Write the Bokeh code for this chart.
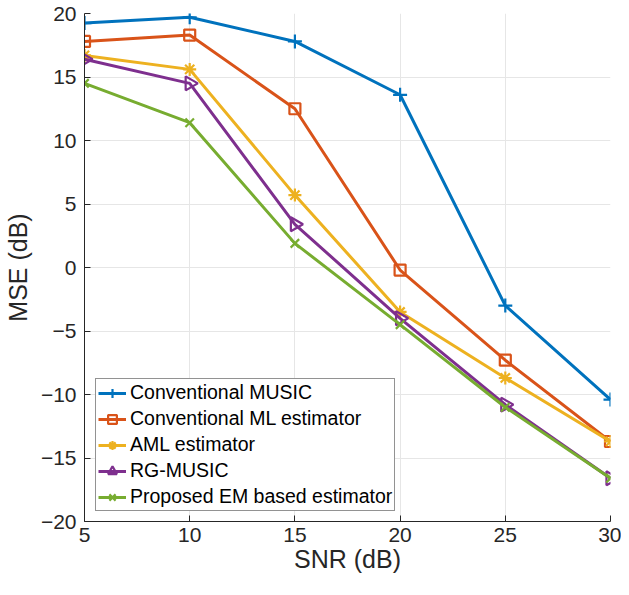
import numpy as np
from bokeh.plotting import figure
from bokeh.models import Range1d, Legend, LegendItem, FixedTicker
from bokeh.embed import file_html
from bokeh.resources import INLINE

snr = [5, 10, 15, 20, 25, 30]
music = [19.25, 19.7, 17.8, 13.6, -3.0, -10.4]
ml = [17.8, 18.3, 12.5, -0.2, -7.3, -13.7]
aml = [16.7, 15.6, 5.7, -3.5, -8.7, -13.7]
rg_music = [16.4, 14.5, 3.4, -4.0, -10.8, -16.6]
em = [14.5, 11.4, 1.9, -4.5, -11.0, -16.6]

labels = ["Conventional MUSIC", "Conventional ML estimator", "AML estimator",
          "RG-MUSIC", "Proposed EM based estimator"]
series = [music, ml, aml, rg_music, em]
colors = ["#0072BD", "#D95319", "#EDB120", "#7E2F8E", "#77AC30"]
markers = ["cross", "square", "asterisk", "triangle", "x"]
msizes = [14, 11, 13, 14, 12]
angles = [0, 0, 0, -np.pi / 2, 0]

FONT = "Liberation Sans"
TXT = "#262626"

p = figure(width=621, height=579, output_backend="svg", toolbar_location=None,
           x_range=Range1d(5, 30), y_range=Range1d(-20, 20),
           min_border_left=74, min_border_right=11, min_border_top=13,
           min_border_bottom=58)
p.outline_line_color = None
p.background_fill_color = "white"

items = []
for lab, ys, c, m, ms, a in zip(labels, series, colors, markers, msizes, angles):
    r1 = p.line(snr, ys, line_color=c, line_width=3)
    r2 = p.scatter(snr, ys, marker=m, size=ms, angle=a, line_color=c,
                   fill_color=None, line_width=2.2)
    items.append(LegendItem(label=lab, renderers=[r1, r2]))

for ax in (p.xaxis[0], p.yaxis[0]):
    ax.axis_line_color = TXT
    ax.axis_line_width = 1
    ax.major_tick_line_color = TXT
    ax.major_tick_in = 6
    ax.major_tick_out = 0
    ax.minor_tick_line_color = None
    ax.major_label_text_font = FONT
    ax.major_label_text_font_size = "21px"
    ax.major_label_text_color = TXT
    ax.axis_label_text_font = FONT
    ax.axis_label_text_font_size = "25px"
    ax.axis_label_text_color = TXT
    ax.axis_label_text_font_style = "normal"

p.xaxis.ticker = FixedTicker(ticks=[5, 10, 15, 20, 25, 30])
p.yaxis.ticker = FixedTicker(ticks=list(range(-20, 21, 5)))
p.xaxis.axis_label = "SNR (dB)"
p.yaxis.axis_label = "MSE (dB)"
p.xaxis.major_label_standoff = 6
p.yaxis.major_label_standoff = 8
p.xaxis.axis_label_standoff = 0
p.yaxis.axis_label_standoff = 6

p.grid.grid_line_color = "#e6e6e6"
p.grid.grid_line_width = 1

leg = Legend(items=items, location=(11, 10))
leg.label_text_font = FONT
leg.label_text_font_size = "19.5px"
leg.label_text_color = "black"
leg.label_height = 22
leg.glyph_height = 22
leg.glyph_width = 28
leg.spacing = 3
leg.padding = 2
leg.margin = 0
leg.label_standoff = 4
leg.border_line_color = TXT
leg.border_line_width = 1
leg.background_fill_color = "white"
leg.background_fill_alpha = 1
p.add_layout(leg, "center")

open("out.html", "w").write(file_html(p, INLINE))
